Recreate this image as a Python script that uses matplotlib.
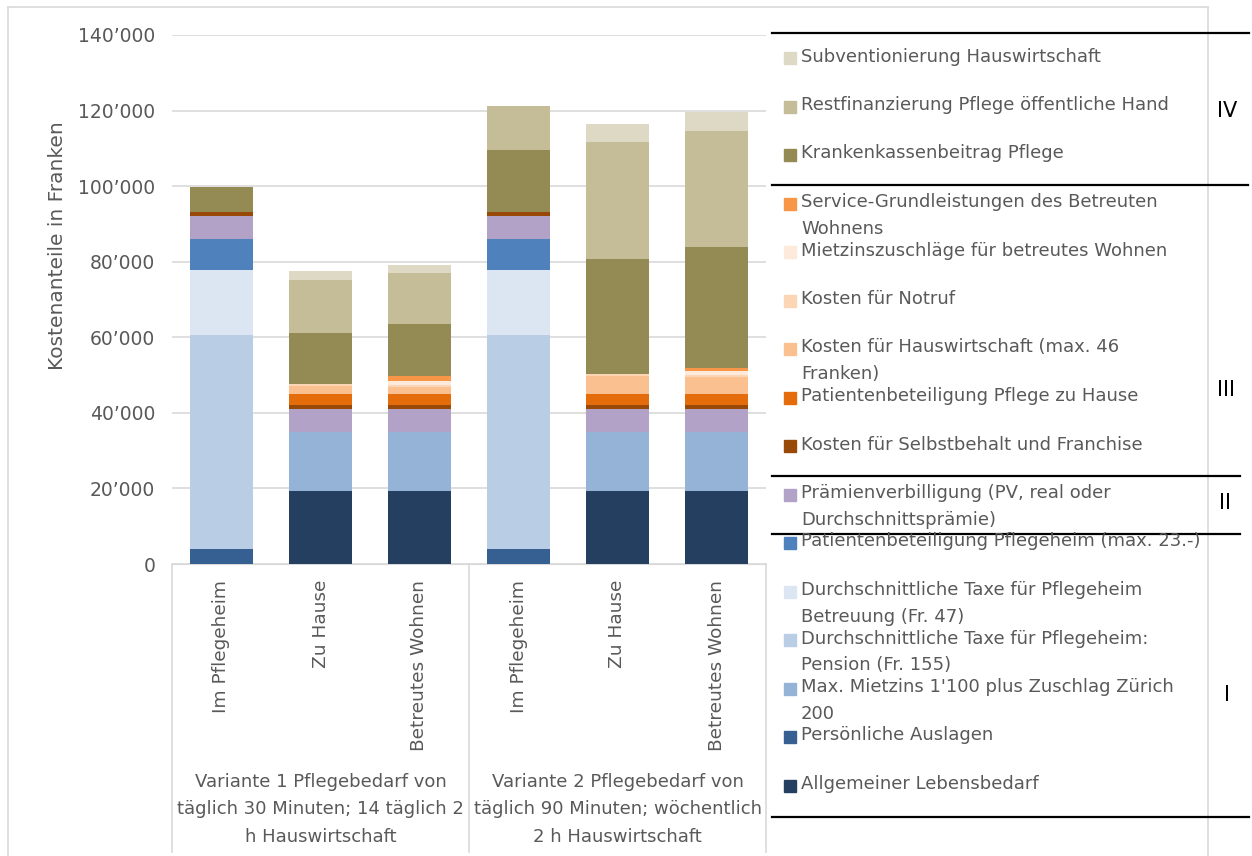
import numpy as np
import matplotlib
matplotlib.use("Agg")
import matplotlib.pyplot as plt
from matplotlib.lines import Line2D
from matplotlib.patches import Rectangle
import matplotlib.transforms as mtransforms
from matplotlib.ticker import FuncFormatter

# bars: V1 Pflegeheim, V1 zu Hause, V1 betreut, V2 Pflegeheim, V2 zu Hause, V2 betreut
bar_labels = ["Im Pflegeheim", "Zu Hause", "Betreutes Wohnen",
              "Im Pflegeheim", "Zu Hause", "Betreutes Wohnen"]
group_labels = ["Variante 1 Pflegebedarf von\ntäglich 30 Minuten; 14 täglich 2\nh Hauswirtschaft",
                "Variante 2 Pflegebedarf von\ntäglich 90 Minuten; wöchentlich\n2 h Hauswirtschaft"]

# series, bottom to top of the stack
lebensbedarf = [0, 19450, 19450, 0, 19450, 19450]
auslagen = [4000, 0, 0, 4000, 0, 0]
mietzins = [0, 15600, 15600, 0, 15600, 15600]
pension = [56500, 0, 0, 56500, 0, 0]
betreuung = [17200, 0, 0, 17200, 0, 0]
pb_heim = [8300, 0, 0, 8300, 0, 0]
praemien = [6100, 6100, 6100, 6100, 6100, 6100]
selbstbehalt = [1000, 900, 900, 1000, 900, 900]
pb_hause = [0, 2900, 2900, 0, 2900, 2900]
hauswirtschaft = [0, 2100, 2000, 0, 4800, 4500]
notruf = [0, 500, 500, 0, 500, 500]
mietzinszuschlag = [0, 0, 900, 0, 0, 1050]
service = [0, 0, 1300, 0, 0, 1000]
krankenkasse = [6750, 13700, 13750, 16550, 30450, 31950]
restfinanzierung = [0, 14000, 13600, 11550, 31100, 30750]
subvention = [0, 2300, 2200, 0, 4550, 4950]

series = [
    ("Allgemeiner Lebensbedarf", lebensbedarf, "#243F60"),
    ("Persönliche Auslagen", auslagen, "#366092"),
    ("Max. Mietzins 1'100 plus Zuschlag Zürich\n200", mietzins, "#95B3D7"),
    ("Durchschnittliche Taxe für Pflegeheim:\nPension (Fr. 155)", pension, "#B9CDE5"),
    ("Durchschnittliche Taxe für Pflegeheim\nBetreuung (Fr. 47)", betreuung, "#DCE6F2"),
    ("Patientenbeteiligung Pflegeheim (max. 23.-)", pb_heim, "#4F81BD"),
    ("Prämienverbilligung (PV, real oder\nDurchschnittsprämie)", praemien, "#B3A2C7"),
    ("Kosten für Selbstbehalt und Franchise", selbstbehalt, "#984807"),
    ("Patientenbeteiligung Pflege zu Hause", pb_hause, "#E46C0A"),
    ("Kosten für Hauswirtschaft (max. 46\nFranken)", hauswirtschaft, "#FAC090"),
    ("Kosten für Notruf", notruf, "#FCD5B5"),
    ("Mietzinszuschläge für betreutes Wohnen", mietzinszuschlag, "#FDEADA"),
    ("Service-Grundleistungen des Betreuten\nWohnens", service, "#F79646"),
    ("Krankenkassenbeitrag Pflege", krankenkasse, "#948A54"),
    ("Restfinanzierung Pflege öffentliche Hand", restfinanzierung, "#C4BD97"),
    ("Subventionierung Hauswirtschaft", subvention, "#DDD9C4"),
]

W, H = 1252, 856
grey = "#595959"
fig = plt.figure(figsize=(W / 100, H / 100), dpi=100)
ax = fig.add_axes([172 / W, 1 - 564 / H, (766 - 172) / W, (564 - 35) / H])

x = np.arange(len(bar_labels))
bottom = np.zeros(len(x))
for name, vals, col in series:
    vals = np.array(vals, dtype=float)
    ax.bar(x, vals, 0.64, bottom=bottom, color=col, zorder=3)
    bottom += vals

ax.set_xlim(-0.5, 5.5)
ax.set_ylim(0, 140000)
ax.set_yticks(np.arange(0, 140001, 20000))
ax.yaxis.set_major_formatter(FuncFormatter(lambda v, p: "0" if v == 0 else f"{int(v):,}".replace(",", "’")))
ax.grid(axis="y", color="#D9D9D9", linewidth=1.2, zorder=0)
for s in ["top", "right", "left"]:
    ax.spines[s].set_visible(False)
ax.spines["bottom"].set_color("#D9D9D9")
ax.tick_params(axis="y", length=0, pad=12, labelsize=13.5, labelcolor=grey)
ax.set_xticks(x)
ax.set_xticklabels(bar_labels, rotation=90, fontsize=13.3, color=grey)
ax.tick_params(axis="x", length=0, pad=11.5)
ax.set_ylabel("Kostenanteile in Franken", fontsize=14.5, color=grey)
ax.yaxis.set_label_coords(-0.177, 0.601)

# category area frame and group labels
trans = mtransforms.blended_transform_factory(ax.transData, ax.transAxes)
for xv in [-0.5, 2.5, 5.5]:
    ax.add_line(Line2D([xv, xv], [0, -0.544], transform=trans, color="#D9D9D9",
                       linewidth=1.2, clip_on=False))
for gx, gl in zip([1, 4], group_labels):
    ax.text(gx, -0.464, gl, transform=trans, ha="center", va="center", fontsize=13,
            color=grey, linespacing=1.66)

# outer chart frame
fig.add_artist(Line2D([8 / W, 8 / W], [0, 1 - 7 / H], color="#D9D9D9", linewidth=1.2))
fig.add_artist(Line2D([8 / W, 1208 / W], [1 - 7 / H, 1 - 7 / H], color="#D9D9D9", linewidth=1.2))
fig.add_artist(Line2D([1208 / W, 1208 / W], [0, 1 - 7 / H], color="#D9D9D9", linewidth=1.2))

# legend, top entry first
for i, (name, vals, col) in enumerate(series[::-1]):
    yc = 58 + 48.5 * i
    fig.add_artist(Rectangle((784 / W, 1 - (yc + 6) / H), 12 / W, 12 / H,
                             transform=fig.transFigure, color=col))
    fig.text(801 / W, 1 - (yc - 10.5) / H, name, fontsize=13, color=grey, va="top",
             linespacing=1.62)

# section brackets
for yl, x1 in [(33, 1249), (185, 1248), (476, 1240), (534, 1240), (817, 1249)]:
    fig.add_artist(Line2D([772 / W, x1 / W], [1 - yl / H, 1 - yl / H], color="black", linewidth=1.6))
for lab, xl, yl in [("IV", 1227, 111), ("III", 1226, 390), ("II", 1225, 503), ("I", 1227, 695)]:
    fig.text(xl / W, 1 - yl / H, lab, fontsize=15, color="black", ha="center", va="center")

fig.savefig("out.png", dpi=100)
